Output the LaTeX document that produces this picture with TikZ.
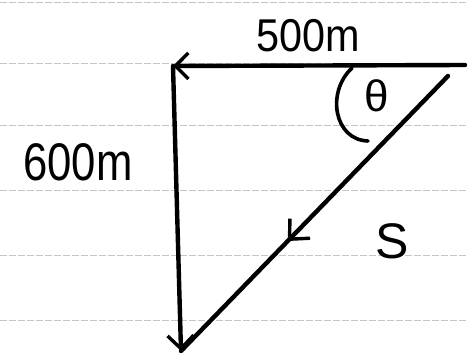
\documentclass[tikz,border=0pt]{standalone}
\usepackage{fontspec}
\setmainfont{Liberation Sans}
\usetikzlibrary{arrows.meta,decorations.markings}
\begin{document}
\begin{tikzpicture}[x=1pt,y=-1pt,
  ruled/.style={gray!45,line width=0.7pt,dash pattern=on 7pt off 2pt},
  vec/.style={line width=4.4pt,line cap=round},
  barb/.style={-{Straight Barb[length=13pt,width=26pt,line width=3.4pt]}},
  lbl/.style={font=\fontsize{46}{50}\selectfont,inner sep=0pt}]
\useasboundingbox (0,0) rectangle (468,363);
\fill[white] (0,0) rectangle (468,363);
% ruled paper lines
\foreach \yy in {2,63,125,190,255,320}
  \draw[ruled] (0,\yy) -- (468,\yy);
% corners
\coordinate (A) at (173,66);
\coordinate (B) at (465,65);
\coordinate (C) at (181,351);
\coordinate (D) at (448,76);
% vectors
\draw[vec,barb] (B) -- (A);
\draw[vec,barb] (A) -- (C);
\draw[vec,postaction={decorate},
  decoration={markings,mark=at position 0.6 with {\arrow{Straight Barb[length=15pt,width=28pt,line width=3.4pt]}}}]
  (D) -- (C);
% angle arc
\coordinate (T1) at (352,68);
\coordinate (T2) at (368,141);
\draw[line width=3.6pt,line cap=round] (T1) .. controls (326,92) and (334,140) .. (T2);
% labels
\node[lbl,xscale=0.9] (l500) at (308,36) {500m};
\node[lbl,xscale=0.95,yscale=1.15] (l600) at (78,162) {600m};
\node[lbl,font=\fontsize{44}{48}\selectfont] (th) at (377,96) {θ};
\node[lbl,font=\fontsize{50}{54}\selectfont] (s) at (392,241) {S};
\end{tikzpicture}
\end{document}
